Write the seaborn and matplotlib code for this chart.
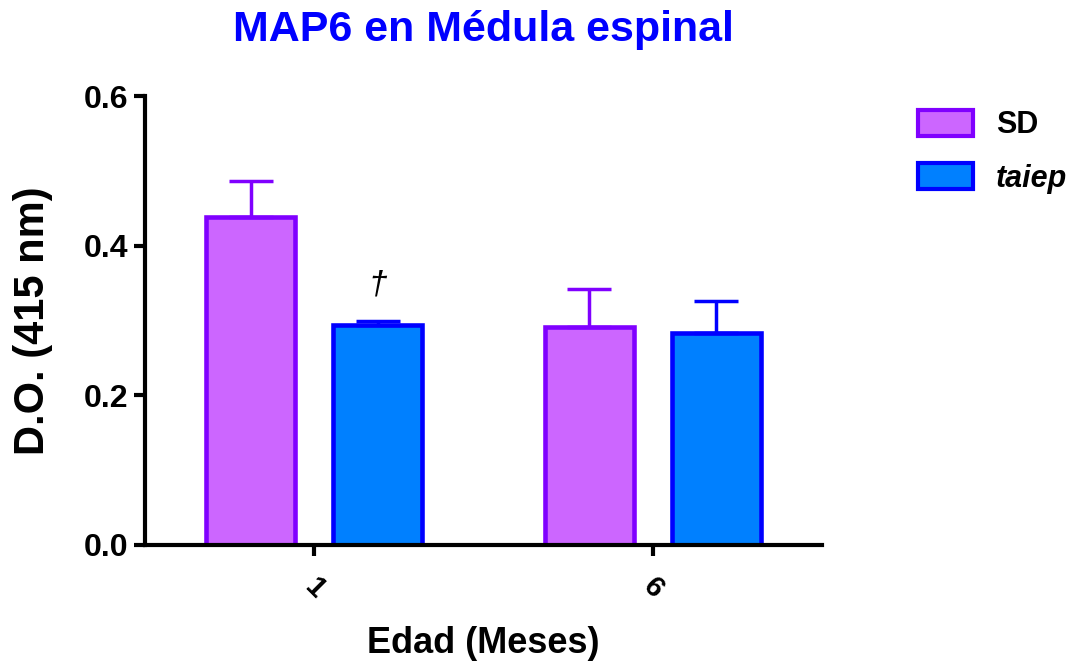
import pandas as pd
import seaborn as sns
import matplotlib.pyplot as plt
from matplotlib.patches import Patch

# data
months = ["1", "1", "6", "6"]
groups = ["SD", "taiep", "SD", "taiep"]
means = [0.438, 0.294, 0.291, 0.283]
errs = [0.048, 0.006, 0.051, 0.043]

group_order = ["SD", "taiep"]
fill_colors = ["#CC66FF", "#0080FF"]
edge_colors = ["#8000FF", "#0000FF"]

title = "MAP6 en Médula espinal"
xlab = "Edad (Meses)"
ylab = "D.O. (415 nm)"
yticks = [0.0, 0.2, 0.4, 0.6]

df = pd.DataFrame({"Edad": months, "Grupo": groups, "DO": means, "err": errs})

sns.set_style("ticks")
plt.rcParams['font.family'] = ['Liberation Sans', 'DejaVu Sans']
plt.rcParams['font.weight'] = 'bold'
plt.rcParams['text.color'] = 'black'
plt.rcParams['axes.labelcolor'] = 'black'
plt.rcParams['xtick.color'] = 'black'
plt.rcParams['ytick.color'] = 'black'

fig = plt.figure(figsize=(10.86, 6.72), dpi=100)
ax = fig.add_axes([0.1335, 0.189, 0.6235, 0.668])

sns.barplot(data=df, x="Edad", y="DO", hue="Grupo", hue_order=group_order,
            palette=fill_colors, saturation=1, errorbar=None, width=0.75,
            gap=0.3, linewidth=3, legend=False, ax=ax)

# edges + upper-only error bars per group
for cont, grp, ec in zip(ax.containers, group_order, edge_colors):
    sub = df[df.Grupo == grp]
    xs = []
    for bar in cont:
        bar.set_edgecolor(ec)
        bar.set_linewidth(3.3)
        xs.append(bar.get_x() + bar.get_width() / 2)
    ax.errorbar(xs, sub.DO.values, yerr=[[0] * len(sub), sub.err.values],
                fmt="none", ecolor=ec, elinewidth=2.5, capsize=15.5,
                capthick=2.5, zorder=1)

# dagger over taiep at 1 month
tx = ax.containers[1][0].get_x() + ax.containers[1][0].get_width() / 2
ax.text(tx, 0.348, "†", ha="center", va="center", fontsize=24,
        style="italic", fontweight="normal", color="black")

ax.set_xlim(-0.5, 1.5)
ax.set_ylim(0, 0.6)
ax.set_yticks(yticks)
ax.set_yticklabels([f"{v:.1f}" for v in yticks], fontsize=23, fontweight="bold")
for lbl in ax.get_xticklabels():
    lbl.set_rotation(-45)
    lbl.set_fontsize(21)
    lbl.set_fontweight("bold")
ax.tick_params(axis="both", length=8, width=3, color="black", pad=4)
ax.tick_params(axis="x", pad=12)
for s in ["left", "bottom"]:
    ax.spines[s].set_linewidth(3)
    ax.spines[s].set_color("black")
sns.despine(ax=ax)

ax.set_xlabel(xlab, fontsize=26, fontweight="bold", labelpad=16)
ax.set_ylabel(ylab, fontsize=30, fontweight="bold", labelpad=22)
ax.set_title(title, fontsize=31, fontweight="bold", color="#0000FF", pad=40)

handles = [Patch(facecolor=fc, edgecolor=ec, linewidth=3)
           for fc, ec in zip(fill_colors, edge_colors)]
leg = fig.legend(handles, group_order, loc="upper left",
                 bbox_to_anchor=(918 / 1086, 1 - 110 / 672), frameon=False,
                 fontsize=22, handlelength=1.8, handleheight=0.92,
                 handletextpad=0.75, labelspacing=0.75, borderpad=0,
                 borderaxespad=0)
for t in leg.get_texts():
    t.set_fontweight("bold")
leg.get_texts()[1].set_style("italic")

fig.savefig("out.png", dpi=100)
